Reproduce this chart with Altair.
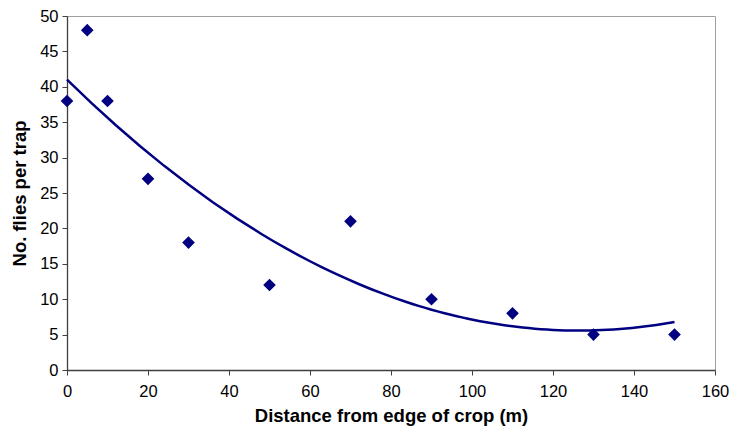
import altair as alt
import pandas as pd

distance = [0, 5, 10, 20, 30, 50, 70, 90, 110, 130, 150]
flies = [38, 48, 38, 27, 18, 12, 21, 10, 8, 5, 5]

df = pd.DataFrame({"distance": distance, "flies": flies})

NAVY = "#000080"
FONT = "Liberation Sans"

x = alt.X("distance:Q", title="Distance from edge of crop (m)",
          scale=alt.Scale(domain=[0, 160], nice=False),
          axis=alt.Axis(values=list(range(0, 161, 20)), grid=False, labelFlush=False))
y = alt.Y("flies:Q", title="No. flies per trap",
          scale=alt.Scale(domain=[0, 50], nice=False),
          axis=alt.Axis(values=list(range(0, 51, 5)), grid=False, labelFlush=False))

points = alt.Chart(df).mark_point(shape="diamond", filled=True, size=160,
                                  color=NAVY, opacity=1).encode(x=x, y=y)

trend = alt.Chart(df).transform_regression(
    "distance", "flies", method="poly", order=2, extent=[0, 150]
).mark_line(color=NAVY, strokeWidth=2.5).encode(x=x, y=y)

chart = alt.layer(trend, points).properties(
    width=648, height=354,
    autosize=alt.AutoSizeParams(type="none"),
    padding={"left": 59, "top": 8, "right": 15, "bottom": 58},
).configure_view(
    stroke="#a0a0a0", strokeWidth=1
).configure_axis(
    domainColor="#404040", tickColor="#404040", domainWidth=1.3,
    tickSize=5, labelFont=FONT, labelFontSize=16.5, labelColor="#000000",
    titleFont=FONT, titleFontSize=18.5, titleFontWeight="bold", titleColor="#000000",
    labelPadding=4,
).configure_axisX(
    titlePadding=7, labelPadding=8
).configure_axisY(
    titlePadding=10
)

chart.save("out.html", embed_options={"renderer": "svg", "actions": False})
